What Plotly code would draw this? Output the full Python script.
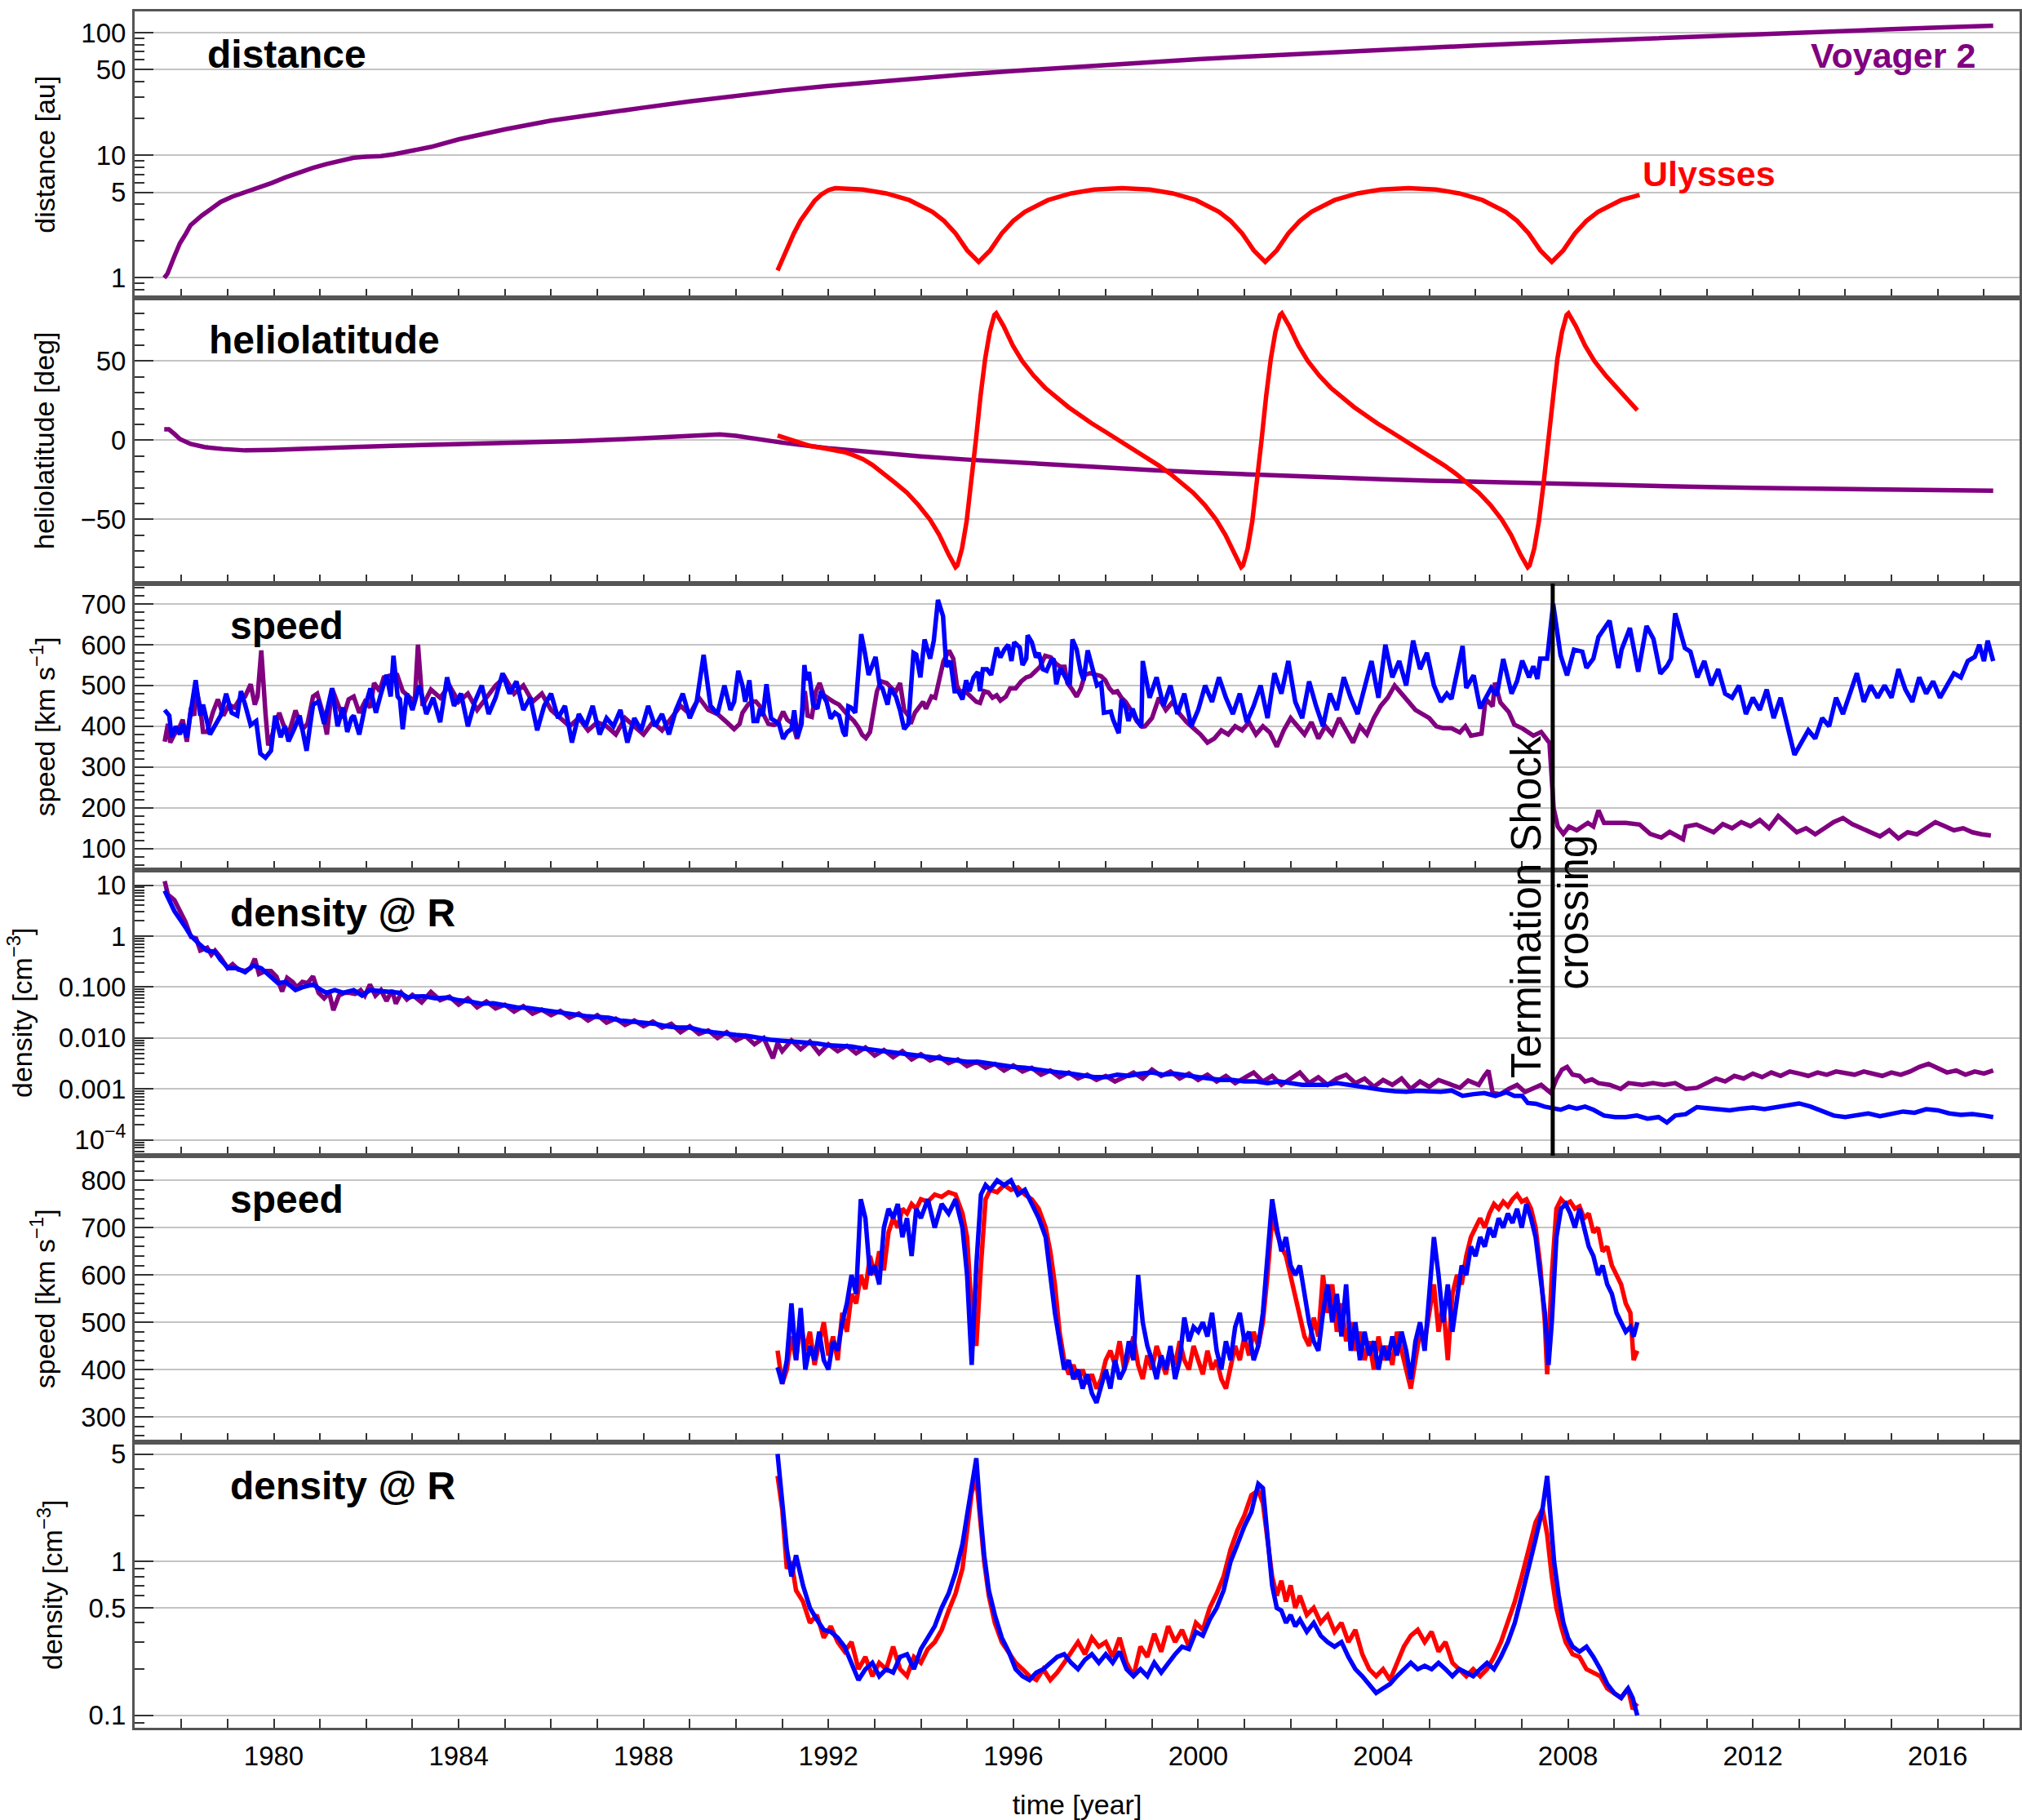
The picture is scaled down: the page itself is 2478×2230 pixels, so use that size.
import plotly.graph_objects as go

FONT = "Liberation Sans, Arial, Helvetica, sans-serif"
PURPLE = "#800080"
RED = "#ff0000"
BLUE = "#0000ff"

# ---------------------------------------------------------------- data
TS_CROSSING = 2007.67

V2_DIST = [(1977.63, 1.0), (1977.7, 1.08), (1977.85, 1.5), (1977.97, 1.92), (1978.1, 2.3), (1978.2, 2.69),
           (1978.44, 3.22), (1978.65, 3.7), (1978.85, 4.16), (1979.1, 4.6), (1979.38, 4.98), (1979.65, 5.45),
           (1979.96, 5.96), (1980.25, 6.6), (1980.56, 7.3), (1980.85, 7.9), (1981.15, 8.5), (1981.45, 9.1),
           (1981.73, 9.55), (1982.0, 9.75), (1982.32, 9.85), (1982.6, 10.2), (1982.9, 10.7), (1983.4, 11.7),
           (1984, 13.5), (1985, 16.3), (1986, 19.2), (1987, 21.8), (1988, 24.5), (1989, 27.5), (1990, 30.8),
           (1991, 33.8), (1992, 36.8), (1993, 39.8), (1994, 42.8), (1995, 45.8), (1996, 48.8), (1997, 51.8),
           (1998, 54.8), (1999, 57.8), (2000, 60.8), (2001, 63.8), (2002, 66.8), (2003, 69.8), (2004, 72.8),
           (2005, 75.8), (2006, 78.8), (2007, 81.8), (2008, 84.8), (2009, 87.9), (2010, 91.0), (2011, 94.2),
           (2012, 97.4), (2013, 100.6), (2014, 103.8), (2015, 107.0), (2016, 110.3), (2017.2, 114.0)]

ULY_DIST = [(1990.9, 1.15), (1991.0, 1.4), (1991.1, 1.75), (1991.25, 2.3), (1991.4, 2.95), (1991.55, 3.6),
            (1991.7, 4.25), (1991.85, 4.8), (1992.0, 5.2), (1992.15, 5.4), (1992.5, 5.33), (1992.75, 5.25),
            (1993.25, 4.89), (1993.75, 4.31), (1994.25, 3.46), (1994.5, 2.92), (1994.75, 2.31), (1995.0, 1.68),
            (1995.25, 1.35), (1995.5, 1.68), (1995.75, 2.31), (1996.0, 2.92), (1996.25, 3.46), (1996.75, 4.31),
            (1997.25, 4.89), (1997.75, 5.25), (1998.35, 5.39), (1998.95, 5.25), (1999.45, 4.89), (1999.95, 4.31),
            (2000.45, 3.46), (2000.7, 2.92), (2000.95, 2.31), (2001.2, 1.68), (2001.45, 1.35), (2001.7, 1.68),
            (2001.95, 2.31), (2002.2, 2.92), (2002.45, 3.46), (2002.95, 4.31), (2003.45, 4.89), (2003.95, 5.25),
            (2004.55, 5.39), (2005.15, 5.25), (2005.65, 4.89), (2006.15, 4.31), (2006.65, 3.46), (2006.9, 2.92),
            (2007.15, 2.31), (2007.4, 1.68), (2007.65, 1.35), (2007.9, 1.68), (2008.15, 2.31), (2008.4, 2.92),
            (2008.65, 3.46), (2009.15, 4.31), (2009.55, 4.75)]

V2_LAT = [(1977.63, 6.9), (1977.73, 6.9), (1977.85, 4.0), (1977.97, 0.8), (1978.2, -2.3), (1978.5, -4.3),
          (1978.9, -5.5), (1979.38, -6.4), (1979.97, -6.1), (1980.56, -5.7), (1981.15, -5.2), (1981.73, -4.3),
          (1982.56, -3.5), (1983.5, -2.9), (1984.5, -2.2), (1985.5, -1.4), (1986.5, -0.5), (1987.5, 0.6),
          (1988.5, 1.9), (1989.2, 3.0), (1989.65, 3.7), (1990.0, 2.8), (1990.5, 0.6), (1991, -1.5), (1992, -5),
          (1993, -7.8), (1994, -10.2), (1995, -12.2), (1996, -14), (1997, -15.8), (1998, -17.4), (1999, -18.9),
          (2000, -20.3), (2001, -21.5), (2002, -22.6), (2003, -23.6), (2004, -24.6), (2005, -25.5), (2006, -26.3),
          (2007, -27.1), (2008, -27.8), (2009, -28.4), (2010, -29), (2011, -29.6), (2012, -30.1), (2013, -30.5),
          (2014, -30.9), (2015, -31.3), (2016, -31.6), (2017.2, -31.9)]

ULY_LAT = [(1990.9, 3), (1991.05, 1.5), (1991.2, 0), (1991.4, -2), (1991.6, -3.5), (1991.8, -4.5), (1992.0, -5.5),
           (1992.15, -6.2), (1992.35, -7.5), (1992.55, -9.5), (1992.75, -12), (1992.95, -15.5), (1993.2, -21),
           (1993.45, -27), (1993.7, -33.1), (1993.95, -41), (1994.2, -50.2), (1994.4, -59.8), (1994.6, -72.1),
           (1994.75, -80.2), (1994.79, -79.1), (1994.89, -68.4), (1994.99, -51.2), (1995.09, -27.8), (1995.19, 0),
           (1995.29, 27.8), (1995.39, 51.2), (1995.49, 68.4), (1995.59, 79.1), (1995.63, 80.2), (1995.79, 72.1),
           (1995.99, 59.8), (1996.19, 50.2), (1996.44, 40.8), (1996.69, 33.1), (1997.19, 21.0), (1997.44, 15.8),
           (1997.69, 10.8), (1997.99, 5.4), (1998.29, 0), (1998.59, -5.4), (1998.89, -10.8), (1999.14, -15.8),
           (1999.39, -21.0), (1999.89, -33.1), (2000.14, -40.8), (2000.39, -50.2), (2000.59, -59.8),
           (2000.79, -72.1), (2000.93, -80.2), (2000.97, -79.1), (2001.07, -68.4), (2001.17, -51.2),
           (2001.27, -27.8), (2001.37, 0), (2001.47, 27.8), (2001.57, 51.2), (2001.67, 68.4), (2001.77, 79.1),
           (2001.81, 80.2), (2001.97, 72.1), (2002.17, 59.8), (2002.37, 50.2), (2002.62, 40.8), (2002.87, 33.1),
           (2003.37, 21.0), (2003.62, 15.8), (2003.87, 10.8), (2004.17, 5.4), (2004.47, 0), (2004.77, -5.4),
           (2005.07, -10.8), (2005.32, -15.8), (2005.57, -21.0), (2006.07, -33.1), (2006.32, -40.8),
           (2006.57, -50.2), (2006.77, -59.8), (2006.97, -72.1), (2007.13, -80.2), (2007.17, -79.1),
           (2007.27, -68.4), (2007.37, -51.2), (2007.47, -27.8), (2007.57, 0), (2007.67, 27.8), (2007.77, 51.2),
           (2007.87, 68.4), (2007.97, 79.1), (2008.01, 80.2), (2008.17, 72.1), (2008.37, 59.8), (2008.57, 50.2),
           (2008.82, 40.8), (2009.07, 33.1), (2009.3, 26), (2009.5, 19)]

# Voyager 2 solar wind speed: observed (purple) and propagated (blue)
V2_SPEED_OBS = [
    (1977.64, 362), (1977.71, 406), (1977.76, 360), (1977.85, 380), (1977.97, 400), (1978.03, 416), (1978.12, 362),
    (1978.21, 446), (1978.28, 426), (1978.32, 493), (1978.41, 446), (1978.47, 386), (1978.56, 386), (1978.68, 433),
    (1978.79, 466), (1978.91, 426), (1979.03, 453), (1979.15, 446), (1979.26, 466), (1979.38, 473), (1979.50, 503),
    (1979.59, 453), (1979.65, 473), (1979.73, 586), (1979.82, 433), (1979.88, 353), (1979.97, 380), (1980.03, 406),
    (1980.12, 433), (1980.20, 406), (1980.32, 380), (1980.47, 439), (1980.62, 393), (1980.73, 406), (1980.85, 473),
    (1980.94, 480), (1981.06, 433), (1981.15, 380), (1981.26, 493), (1981.41, 446), (1981.50, 420), (1981.62, 466),
    (1981.73, 473), (1981.85, 433), (1981.97, 460), (1982.09, 446), (1982.17, 506), (1982.29, 486), (1982.38, 520),
    (1982.56, 526), (1982.67, 526), (1982.79, 486), (1982.91, 473),
    (1983.05, 460), (1983.12, 600), (1983.22, 450), (1983.4, 490), (1983.6, 470), (1983.8, 500), (1984.0, 460),
    (1984.2, 480), (1984.4, 440), (1984.6, 470), (1984.8, 500), (1985.0, 520), (1985.2, 480), (1985.4, 500),
    (1985.6, 460), (1985.8, 480), (1986.0, 440), (1986.2, 420), (1986.4, 400), (1986.6, 420), (1986.8, 390),
    (1987.0, 410), (1987.2, 400), (1987.4, 380), (1987.6, 420), (1987.8, 400), (1988.0, 380), (1988.2, 410),
    (1988.4, 390), (1988.6, 420), (1988.8, 450), (1989.0, 430), (1989.2, 470), (1989.4, 440), (1989.6, 430),
    (1989.8, 410),
    (1989.96, 393), (1990.08, 406), (1990.14, 433), (1990.26, 453), (1990.35, 461), (1990.43, 461), (1990.52, 449),
    (1990.61, 426), (1990.70, 406), (1990.82, 403), (1990.90, 406), (1991.02, 436), (1991.11, 416), (1991.23, 406),
    (1991.32, 369), (1991.40, 406), (1991.49, 486), (1991.55, 426), (1991.64, 423), (1991.73, 486), (1991.81, 506),
    (1991.90, 476), (1992.02, 466), (1992.11, 460), (1992.23, 453), (1992.32, 439), (1992.43, 426), (1992.55, 413),
    (1992.64, 399), (1992.73, 379), (1992.81, 371), (1992.90, 386), (1992.96, 433), (1993.05, 486), (1993.14, 510),
    (1993.26, 506), (1993.37, 493), (1993.46, 486), (1993.55, 506), (1993.64, 439), (1993.73, 426), (1993.78, 406),
    (1993.87, 433), (1993.96, 449), (1994.05, 460), (1994.11, 443), (1994.23, 473), (1994.31, 470), (1994.40, 520),
    (1994.49, 560), (1994.61, 586), (1994.70, 566), (1994.78, 500), (1994.84, 486), (1994.96, 486), (1995.08, 473),
    (1995.20, 460), (1995.28, 457), (1995.37, 486), (1995.46, 483), (1995.55, 470), (1995.64, 476), (1995.72, 463),
    (1995.84, 473), (1995.93, 493), (1996.05, 493), (1996.17, 510), (1996.28, 520), (1996.37, 523), (1996.46, 533),
    (1996.58, 546), (1996.69, 573), (1996.81, 569), (1996.93, 553), (1997.02, 546), (1997.11, 546), (1997.17, 506),
    (1997.28, 489), (1997.37, 473), (1997.46, 493), (1997.55, 526), (1997.66, 530), (1997.78, 526), (1997.90, 523),
    (1997.99, 513), (1998.08, 493), (1998.16, 483), (1998.25, 486), (1998.34, 470), (1998.43, 460), (1998.55, 439),
    (1998.67, 413), (1998.78, 399),
    (1998.85, 400), (1999.0, 420), (1999.15, 470), (1999.3, 440), (1999.45, 460), (1999.6, 430), (1999.75, 410),
    (1999.9, 395), (2000.05, 380), (2000.2, 360), (2000.35, 370), (2000.5, 390), (2000.65, 380), (2000.8, 400),
    (2000.95, 390), (2001.1, 410), (2001.25, 380), (2001.4, 400), (2001.55, 385), (2001.7, 350), (2001.85, 390),
    (2002.0, 420), (2002.15, 400), (2002.3, 380), (2002.45, 410), (2002.6, 370), (2002.75, 400), (2002.9, 380),
    (2003.05, 420), (2003.2, 390), (2003.35, 360), (2003.5, 400), (2003.65, 380), (2003.8, 420), (2003.95, 450),
    (2004.1, 470), (2004.25, 500), (2004.4, 480), (2004.55, 460), (2004.7, 440), (2004.85, 430), (2005.0, 420),
    (2005.15, 400), (2005.3, 395),
    (2005.48, 395), (2005.66, 385), (2005.78, 400), (2005.9, 377), (2006.13, 382), (2006.22, 467), (2006.37, 449),
    (2006.42, 507), (2006.54, 458), (2006.72, 435), (2006.84, 404), (2007.01, 395), (2007.25, 377), (2007.42, 386),
    (2007.6, 359), (2007.69, 199), (2007.78, 154), (2007.9, 136), (2008.02, 154), (2008.19, 145), (2008.43, 163),
    (2008.55, 154), (2008.66, 194), (2008.78, 163), (2009.02, 163), (2009.25, 163), (2009.55, 159), (2009.78, 136),
    (2010.02, 127), (2010.2, 141), (2010.49, 123), (2010.55, 154), (2010.78, 159),
    (2010.95, 150), (2011.15, 140), (2011.35, 160), (2011.55, 150), (2011.75, 165), (2011.95, 155), (2012.15, 170),
    (2012.35, 150), (2012.55, 180), (2012.75, 160), (2012.95, 140), (2013.15, 150), (2013.35, 135), (2013.55, 150),
    (2013.75, 165), (2013.95, 175), (2014.15, 160), (2014.35, 150), (2014.55, 140), (2014.75, 130), (2014.95, 145),
    (2015.15, 125), (2015.35, 140), (2015.55, 135), (2015.75, 150), (2015.95, 165), (2016.15, 155), (2016.35, 145),
    (2016.55, 150), (2016.75, 140), (2016.95, 135), (2017.15, 132)]

V2_SPEED_MOD = [
    (1977.64, 440), (1977.74, 426), (1977.79, 373), (1977.88, 400), (1977.97, 380), (1978.03, 406), (1978.12, 373),
    (1978.21, 446), (1978.31, 513), (1978.41, 426), (1978.47, 453), (1978.62, 380), (1978.74, 406), (1978.85, 426),
    (1978.97, 480), (1979.09, 433), (1979.21, 426), (1979.29, 486), (1979.38, 453), (1979.50, 403), (1979.62, 413),
    (1979.71, 333), (1979.82, 323), (1979.94, 340), (1980.03, 426), (1980.15, 373), (1980.24, 400), (1980.32, 363),
    (1980.44, 393), (1980.56, 426), (1980.71, 340), (1980.85, 453), (1980.97, 460), (1981.09, 406), (1981.26, 493),
    (1981.38, 400), (1981.50, 446), (1981.59, 386), (1981.68, 420), (1981.73, 426), (1981.85, 380), (1981.97, 446),
    (1982.09, 493), (1982.21, 433), (1982.32, 480), (1982.44, 526), (1982.53, 473), (1982.59, 573), (1982.68, 473),
    (1982.73, 466), (1982.79, 393), (1982.88, 480),
    (1983.0, 440), (1983.15, 500), (1983.3, 430), (1983.45, 470), (1983.6, 410), (1983.75, 520), (1983.9, 450),
    (1984.05, 480), (1984.2, 400), (1984.35, 460), (1984.5, 500), (1984.65, 430), (1984.8, 470), (1984.95, 530),
    (1985.1, 480), (1985.25, 510), (1985.4, 440), (1985.55, 470), (1985.7, 390), (1985.85, 450), (1986.0, 480),
    (1986.15, 420), (1986.3, 450), (1986.45, 360), (1986.6, 430), (1986.75, 400), (1986.9, 450), (1987.05, 380),
    (1987.2, 420), (1987.35, 400), (1987.5, 440), (1987.65, 360), (1987.8, 420), (1987.95, 390), (1988.1, 450),
    (1988.25, 400), (1988.4, 430), (1988.55, 380), (1988.7, 440), (1988.85, 480), (1989.0, 420), (1989.15, 460),
    (1989.3, 575), (1989.45, 450), (1989.6, 430), (1989.75, 500), (1989.88, 440),
    (1989.96, 460), (1990.05, 536), (1990.14, 500), (1990.20, 460), (1990.29, 513), (1990.38, 413), (1990.46, 413),
    (1990.52, 443), (1990.58, 426), (1990.66, 503), (1990.76, 419), (1990.84, 413), (1990.93, 406), (1991.02, 369),
    (1991.11, 386), (1991.20, 393), (1991.26, 439), (1991.33, 373), (1991.42, 406), (1991.48, 550), (1991.52, 513),
    (1991.58, 533), (1991.67, 453), (1991.76, 443), (1991.84, 486), (1991.96, 460), (1992.05, 419), (1992.14, 433),
    (1992.23, 426), (1992.32, 386), (1992.37, 376), (1992.43, 449), (1992.49, 446), (1992.58, 433), (1992.71, 626),
    (1992.78, 586), (1992.87, 526), (1993.02, 570), (1993.11, 500), (1993.17, 493), (1993.28, 453), (1993.34, 493),
    (1993.46, 473), (1993.55, 439), (1993.64, 393), (1993.73, 406), (1993.84, 580), (1993.90, 576), (1993.99, 520),
    (1994.08, 613), (1994.20, 566), (1994.28, 610), (1994.37, 710), (1994.48, 670), (1994.55, 546), (1994.64, 560),
    (1994.73, 486), (1994.81, 486), (1994.90, 466), (1994.98, 513), (1995.05, 486), (1995.14, 520), (1995.23, 533),
    (1995.28, 486), (1995.34, 540), (1995.43, 540), (1995.52, 526), (1995.64, 593), (1995.72, 569), (1995.81, 589),
    (1995.89, 600), (1995.96, 560), (1996.02, 606), (1996.14, 593), (1996.20, 550), (1996.28, 566), (1996.31, 623),
    (1996.40, 606), (1996.49, 569), (1996.55, 580), (1996.64, 540), (1996.72, 536), (1996.81, 560), (1996.87, 566),
    (1996.93, 503), (1997.02, 543), (1997.11, 526), (1997.22, 500), (1997.28, 613), (1997.37, 589), (1997.46, 533),
    (1997.52, 513), (1997.61, 586), (1997.72, 540), (1997.81, 500), (1997.90, 506), (1997.96, 433), (1998.11, 436),
    (1998.16, 416), (1998.28, 383), (1998.34, 466), (1998.43, 446), (1998.49, 413), (1998.58, 443), (1998.67, 416),
    (1998.77, 399),
    (1998.8, 560), (1998.95, 470), (1999.1, 520), (1999.25, 450), (1999.4, 500), (1999.55, 430), (1999.7, 480),
    (1999.85, 400), (2000.0, 440), (2000.15, 500), (2000.3, 460), (2000.45, 520), (2000.6, 470), (2000.75, 430),
    (2000.9, 480), (2001.05, 410), (2001.2, 450), (2001.35, 500), (2001.5, 420), (2001.65, 530), (2001.8, 480),
    (2001.95, 560), (2002.1, 460), (2002.25, 420), (2002.4, 510), (2002.55, 450), (2002.7, 400), (2002.85, 480),
    (2003.0, 440), (2003.15, 520), (2003.3, 470), (2003.45, 430), (2003.6, 500), (2003.75, 560), (2003.9, 470),
    (2004.05, 600), (2004.2, 520), (2004.35, 560), (2004.5, 500), (2004.65, 610), (2004.8, 540), (2004.95, 580),
    (2005.1, 500), (2005.25, 460), (2005.38, 480),
    (2005.48, 467), (2005.72, 597), (2005.8, 494), (2005.96, 525), (2006.1, 444), (2006.34, 494), (2006.46, 476),
    (2006.6, 565), (2006.78, 480), (2006.9, 511), (2007.01, 561), (2007.16, 520), (2007.25, 547), (2007.34, 516),
    (2007.4, 566), (2007.55, 566), (2007.68, 700), (2007.84, 574), (2007.98, 525), (2008.13, 588), (2008.31, 583),
    (2008.4, 543), (2008.55, 566), (2008.66, 619), (2008.9, 659), (2009.02, 583), (2009.09, 543), (2009.16, 588),
    (2009.34, 641), (2009.52, 534), (2009.7, 646), (2009.85, 614), (2010.0, 529), (2010.14, 547), (2010.23, 566),
    (2010.32, 677), (2010.53, 592), (2010.65, 583), (2010.8, 520),
    (2010.95, 560), (2011.1, 500), (2011.25, 540), (2011.4, 480), (2011.55, 470), (2011.7, 500), (2011.85, 430),
    (2012.0, 470), (2012.15, 440), (2012.3, 490), (2012.45, 420), (2012.6, 470), (2012.75, 400), (2012.9, 330),
    (2013.05, 360), (2013.2, 390), (2013.35, 370), (2013.5, 420), (2013.65, 400), (2013.8, 470), (2013.95, 430),
    (2014.1, 480), (2014.25, 530), (2014.4, 460), (2014.55, 500), (2014.7, 470), (2014.85, 500), (2015.0, 470),
    (2015.15, 540), (2015.3, 490), (2015.45, 460), (2015.6, 520), (2015.75, 480), (2015.9, 510), (2016.05, 470),
    (2016.2, 500), (2016.35, 530), (2016.5, 520), (2016.65, 560), (2016.8, 570), (2016.9, 600), (2017.0, 560),
    (2017.08, 610), (2017.2, 560)]

# Voyager 2 density at R: observed (purple) and propagated (blue)
V2_DENS_OBS = [
    (1977.64, 12), (1977.71, 6.5), (1977.85, 5.1), (1978.09, 1.9), (1978.21, 0.96), (1978.32, 0.9), (1978.41, 0.52),
    (1978.56, 0.59), (1978.65, 0.43), (1978.73, 0.52), (1978.85, 0.38), (1979.0, 0.234), (1979.11, 0.28),
    (1979.23, 0.22), (1979.38, 0.207), (1979.5, 0.234), (1979.59, 0.36), (1979.68, 0.18), (1979.82, 0.207),
    (1979.94, 0.207), (1980.06, 0.16), (1980.18, 0.082), (1980.29, 0.152), (1980.41, 0.126), (1980.5, 0.099),
    (1980.62, 0.126), (1980.73, 0.119), (1980.85, 0.162), (1980.97, 0.077), (1981.09, 0.06), (1981.2, 0.077),
    (1981.29, 0.035), (1981.41, 0.068), (1981.53, 0.077), (1981.64, 0.077), (1981.76, 0.073), (1981.88, 0.087),
    (1981.97, 0.068), (1982.08, 0.112), (1982.2, 0.068), (1982.32, 0.087), (1982.44, 0.053), (1982.56, 0.087),
    (1982.64, 0.047), (1982.76, 0.077), (1982.88, 0.057),
    (1983.0, 0.07), (1983.2, 0.05), (1983.4, 0.08), (1983.6, 0.055), (1983.8, 0.065), (1984.0, 0.045),
    (1984.2, 0.06), (1984.4, 0.04), (1984.6, 0.052), (1984.8, 0.038), (1985.0, 0.045), (1985.2, 0.033),
    (1985.4, 0.042), (1985.6, 0.03), (1985.8, 0.036), (1986.0, 0.028), (1986.2, 0.034), (1986.4, 0.025),
    (1986.6, 0.03), (1986.8, 0.022), (1987.0, 0.028), (1987.2, 0.02), (1987.4, 0.024), (1987.6, 0.018),
    (1987.8, 0.022), (1988.0, 0.017), (1988.2, 0.021), (1988.4, 0.016), (1988.6, 0.019), (1988.8, 0.013),
    (1989.0, 0.017), (1989.2, 0.012), (1989.4, 0.014), (1989.6, 0.01), (1989.8, 0.013), (1990.0, 0.009),
    (1990.2, 0.011), (1990.4, 0.0075), (1990.6, 0.01), (1990.8, 0.004), (1990.9, 0.008), (1991.0, 0.0055),
    (1991.2, 0.009), (1991.4, 0.006), (1991.6, 0.0085), (1991.8, 0.005), (1992.0, 0.0075), (1992.2, 0.0055),
    (1992.4, 0.007), (1992.6, 0.005), (1992.8, 0.0065), (1993.0, 0.0045), (1993.2, 0.0058), (1993.4, 0.0042),
    (1993.6, 0.0055), (1993.8, 0.0038), (1994.0, 0.0048), (1994.2, 0.0036), (1994.4, 0.0043), (1994.6, 0.0032),
    (1994.8, 0.0038), (1995.0, 0.0028), (1995.2, 0.0034), (1995.4, 0.0026), (1995.6, 0.0031), (1995.8, 0.0023),
    (1996.0, 0.0029), (1996.2, 0.0022), (1996.4, 0.0026), (1996.6, 0.0019), (1996.8, 0.0023), (1997.0, 0.0017),
    (1997.2, 0.0021), (1997.4, 0.0016), (1997.6, 0.0019), (1997.8, 0.0015), (1998.0, 0.0018), (1998.2, 0.0014),
    (1998.4, 0.0017), (1998.6, 0.0021), (1998.8, 0.0016), (1999.0, 0.0024), (1999.2, 0.0018), (1999.4, 0.0022),
    (1999.6, 0.0016), (1999.8, 0.002), (2000.0, 0.0015), (2000.2, 0.0019), (2000.4, 0.0014), (2000.6, 0.0018),
    (2000.8, 0.0013), (2001.0, 0.0017), (2001.2, 0.0021), (2001.4, 0.0014), (2001.6, 0.0018), (2001.8, 0.0012),
    (2002.0, 0.0016), (2002.2, 0.0021), (2002.4, 0.0013), (2002.6, 0.0017), (2002.8, 0.0012), (2003.0, 0.0016),
    (2003.2, 0.0019), (2003.4, 0.0013), (2003.6, 0.0016), (2003.8, 0.0011), (2004.0, 0.0015), (2004.2, 0.0012),
    (2004.4, 0.0016), (2004.6, 0.001), (2004.8, 0.0014), (2005.0, 0.0011), (2005.2, 0.0015),
    (2005.48, 0.0012), (2005.66, 0.00105), (2005.84, 0.00146), (2006.07, 0.0012), (2006.19, 0.0018),
    (2006.28, 0.0023), (2006.37, 0.00083), (2006.54, 0.00079), (2006.72, 0.001), (2006.9, 0.0012),
    (2007.07, 0.00087), (2007.25, 0.001), (2007.42, 0.0012), (2007.63, 0.00083), (2007.75, 0.00154),
    (2007.87, 0.0024), (2007.98, 0.0027), (2008.1, 0.0019), (2008.25, 0.0018), (2008.37, 0.0014),
    (2008.52, 0.00154), (2008.66, 0.0013), (2008.9, 0.0012), (2009.14, 0.001), (2009.31, 0.0013),
    (2009.61, 0.0012), (2009.84, 0.0013), (2010.08, 0.0012), (2010.32, 0.0013), (2010.55, 0.001),
    (2010.79, 0.00105),
    (2011.0, 0.0013), (2011.2, 0.0016), (2011.4, 0.0014), (2011.6, 0.0018), (2011.8, 0.0016), (2012.0, 0.002),
    (2012.2, 0.0017), (2012.4, 0.0021), (2012.6, 0.0018), (2012.8, 0.0022), (2013.0, 0.002), (2013.2, 0.0018),
    (2013.4, 0.0021), (2013.6, 0.0019), (2013.8, 0.0022), (2014.0, 0.002), (2014.2, 0.0019), (2014.4, 0.0022),
    (2014.6, 0.002), (2014.8, 0.0018), (2015.0, 0.0021), (2015.2, 0.0019), (2015.4, 0.0022), (2015.6, 0.0027),
    (2015.8, 0.0031), (2016.0, 0.0025), (2016.2, 0.0021), (2016.4, 0.0023), (2016.6, 0.0019), (2016.8, 0.0022),
    (2017.0, 0.002), (2017.2, 0.0023)]

V2_DENS_MOD = [
    (1977.64, 7.8), (1977.85, 3.1), (1978.09, 1.48), (1978.2, 1.03), (1978.38, 0.71), (1978.55, 0.52),
    (1978.73, 0.49), (1978.85, 0.34), (1979.02, 0.234), (1979.2, 0.234), (1979.38, 0.195), (1979.55, 0.264),
    (1979.73, 0.234), (1979.91, 0.162), (1980.09, 0.119), (1980.26, 0.126), (1980.47, 0.087), (1980.62, 0.099),
    (1980.85, 0.112), (1981.03, 0.087), (1981.14, 0.077), (1981.32, 0.087), (1981.5, 0.077), (1981.73, 0.087),
    (1981.91, 0.068), (1982.08, 0.087), (1982.32, 0.082), (1982.56, 0.077), (1982.73, 0.077), (1982.91, 0.062),
    (1983.0, 0.065), (1983.25, 0.066), (1983.5, 0.06), (1983.75, 0.062), (1984.0, 0.055), (1984.25, 0.052),
    (1984.5, 0.047), (1984.75, 0.048), (1985.0, 0.043), (1985.25, 0.04), (1985.5, 0.039), (1985.75, 0.036),
    (1986.0, 0.033), (1986.25, 0.032), (1986.5, 0.029), (1986.75, 0.027), (1987.0, 0.026), (1987.25, 0.025),
    (1987.5, 0.022), (1987.75, 0.021), (1988.0, 0.02), (1988.25, 0.019), (1988.5, 0.017), (1988.75, 0.016),
    (1989.0, 0.016), (1989.25, 0.014), (1989.5, 0.013), (1989.75, 0.012), (1990.0, 0.0115), (1990.25, 0.011),
    (1990.5, 0.01), (1990.75, 0.0092), (1991.0, 0.0088), (1991.25, 0.0085), (1991.5, 0.0082), (1991.75, 0.0078),
    (1992.0, 0.0072), (1992.25, 0.007), (1992.5, 0.0068), (1992.75, 0.0062), (1993.0, 0.0058), (1993.25, 0.0056),
    (1993.5, 0.0052), (1993.75, 0.0048), (1994.0, 0.0045), (1994.25, 0.0042), (1994.5, 0.0039), (1994.75, 0.0036),
    (1995.0, 0.0034), (1995.25, 0.0034), (1995.5, 0.0031), (1995.75, 0.0029), (1996.0, 0.0027), (1996.25, 0.0026),
    (1996.5, 0.0024), (1996.75, 0.0023), (1997.0, 0.0021), (1997.25, 0.002), (1997.5, 0.0018), (1997.75, 0.0017),
    (1998.0, 0.0017), (1998.25, 0.0019), (1998.5, 0.0018), (1998.75, 0.002), (1999.0, 0.0021), (1999.25, 0.0019),
    (1999.5, 0.002), (1999.75, 0.0018), (2000.0, 0.0017), (2000.25, 0.0016), (2000.5, 0.0015), (2000.75, 0.0015),
    (2001.0, 0.0014), (2001.25, 0.0014), (2001.5, 0.0013), (2001.75, 0.0014), (2002.0, 0.0013), (2002.25, 0.0012),
    (2002.5, 0.0012), (2002.75, 0.0012), (2003.0, 0.0013), (2003.25, 0.0012), (2003.5, 0.0011), (2003.75, 0.001),
    (2004.0, 0.00095), (2004.25, 0.0009), (2004.5, 0.00088), (2004.75, 0.00092), (2005.0, 0.0009),
    (2005.25, 0.00088),
    (2005.48, 0.00093), (2005.72, 0.00073), (2005.96, 0.00079), (2006.19, 0.00083), (2006.43, 0.00073),
    (2006.66, 0.00086), (2006.84, 0.00073), (2007.01, 0.00073), (2007.13, 0.00053), (2007.31, 0.00051),
    (2007.49, 0.00045), (2007.66, 0.00041), (2007.84, 0.00039), (2008.02, 0.00045), (2008.19, 0.00041),
    (2008.37, 0.00045), (2008.55, 0.00039), (2008.78, 0.0003), (2009.02, 0.00028), (2009.25, 0.00028),
    (2009.49, 0.0003), (2009.72, 0.00026), (2009.96, 0.00028), (2010.14, 0.00022), (2010.32, 0.0003),
    (2010.55, 0.00032), (2010.79, 0.00044),
    (2011.0, 0.00042), (2011.25, 0.0004), (2011.5, 0.00038), (2011.75, 0.00041), (2012.0, 0.00043),
    (2012.25, 0.0004), (2012.5, 0.00044), (2012.75, 0.00048), (2013.0, 0.00052), (2013.25, 0.00045),
    (2013.5, 0.00036), (2013.75, 0.0003), (2014.0, 0.00028), (2014.25, 0.0003), (2014.5, 0.00033),
    (2014.75, 0.00029), (2015.0, 0.00032), (2015.25, 0.00036), (2015.5, 0.00034), (2015.75, 0.0004),
    (2016.0, 0.00038), (2016.25, 0.00033), (2016.5, 0.00031), (2016.75, 0.00032), (2017.0, 0.0003),
    (2017.2, 0.00028)]

# Ulysses solar wind speed: observed (red) and propagated (blue)
ULY_SPEED_OBS = [
    (1990.9, 440), (1991.0, 370), (1991.1, 400), (1991.2, 470), (1991.3, 420), (1991.4, 500), (1991.5, 440),
    (1991.6, 480), (1991.7, 410), (1991.8, 460), (1991.9, 500), (1992.0, 430), (1992.1, 470), (1992.2, 420),
    (1992.3, 520), (1992.4, 480), (1992.5, 560), (1992.6, 540), (1992.7, 600), (1992.8, 570), (1992.9, 640),
    (1993.0, 600), (1993.1, 650), (1993.2, 610), (1993.3, 690), (1993.4, 720), (1993.5, 700), (1993.6, 740),
    (1993.7, 730), (1993.8, 750), (1993.9, 740), (1994.0, 760), (1994.15, 755), (1994.3, 770), (1994.45, 765),
    (1994.6, 775), (1994.75, 770), (1994.9, 730), (1995.0, 680), (1995.1, 520), (1995.2, 450), (1995.3, 620),
    (1995.4, 760), (1995.5, 780), (1995.65, 775), (1995.8, 790), (1995.95, 780), (1996.1, 785), (1996.25, 770),
    (1996.4, 760), (1996.55, 740), (1996.7, 700), (1996.8, 650), (1996.9, 580), (1997.0, 480), (1997.1, 420),
    (1997.2, 390), (1997.3, 410), (1997.4, 380), (1997.5, 400), (1997.6, 370), (1997.7, 390), (1997.8, 360),
    (1997.9, 380), (1998.0, 420), (1998.1, 440), (1998.2, 410), (1998.3, 460), (1998.4, 400), (1998.5, 430),
    (1998.6, 470), (1998.7, 410), (1998.8, 380), (1998.9, 430), (1999.0, 400), (1999.1, 450), (1999.2, 420),
    (1999.3, 390), (1999.4, 440), (1999.5, 410), (1999.6, 460), (1999.7, 420), (1999.8, 400), (1999.9, 450),
    (2000.0, 420), (2000.1, 390), (2000.2, 440), (2000.3, 400), (2000.4, 420), (2000.5, 380), (2000.6, 360),
    (2000.7, 400), (2000.8, 450), (2000.9, 420), (2001.0, 470), (2001.1, 430), (2001.2, 480), (2001.3, 450),
    (2001.4, 500), (2001.5, 600), (2001.6, 720), (2001.7, 690), (2001.8, 660), (2001.9, 640), (2002.0, 600),
    (2002.1, 560), (2002.2, 520), (2002.3, 470), (2002.4, 450), (2002.5, 510), (2002.6, 470), (2002.7, 600),
    (2002.8, 520), (2002.9, 580), (2003.0, 480), (2003.1, 540), (2003.2, 460), (2003.3, 500), (2003.4, 440),
    (2003.5, 480), (2003.6, 420), (2003.7, 460), (2003.8, 400), (2003.9, 470), (2004.0, 420), (2004.1, 450),
    (2004.2, 410), (2004.3, 480), (2004.4, 440), (2004.5, 400), (2004.6, 360), (2004.7, 420), (2004.8, 480),
    (2004.9, 460), (2005.0, 520), (2005.1, 580), (2005.2, 480), (2005.3, 540), (2005.4, 420), (2005.5, 560),
    (2005.6, 600), (2005.7, 580), (2005.8, 640), (2005.9, 680), (2006.0, 700), (2006.1, 720), (2006.2, 700),
    (2006.3, 730), (2006.4, 750), (2006.5, 740), (2006.6, 755), (2006.7, 745), (2006.8, 760), (2006.9, 770),
    (2007.0, 755), (2007.1, 760), (2007.2, 740), (2007.3, 700), (2007.4, 620), (2007.5, 500), (2007.55, 390),
    (2007.65, 600), (2007.75, 740), (2007.85, 760), (2007.95, 750), (2008.05, 755), (2008.15, 740), (2008.25, 745),
    (2008.35, 720), (2008.45, 730), (2008.55, 690), (2008.65, 700), (2008.75, 650), (2008.85, 660), (2008.95, 620),
    (2009.05, 600), (2009.15, 580), (2009.25, 540), (2009.35, 520), (2009.42, 420), (2009.5, 440)]

ULY_SPEED_MOD = [
    (1990.9, 405), (1991.0, 370), (1991.1, 420), (1991.2, 540), (1991.3, 420), (1991.4, 530), (1991.5, 400),
    (1991.6, 450), (1991.7, 420), (1991.8, 480), (1991.9, 420), (1992.0, 400), (1992.1, 460), (1992.2, 440),
    (1992.3, 500), (1992.4, 540), (1992.5, 600), (1992.6, 560), (1992.7, 760), (1992.8, 720), (1992.9, 600),
    (1993.0, 620), (1993.1, 580), (1993.2, 700), (1993.3, 740), (1993.4, 720), (1993.5, 750), (1993.6, 680),
    (1993.7, 720), (1993.8, 640), (1993.9, 740), (1994.0, 720), (1994.15, 760), (1994.3, 700), (1994.45, 750),
    (1994.6, 730), (1994.75, 760), (1994.9, 700), (1995.0, 600), (1995.1, 410), (1995.2, 620), (1995.3, 770),
    (1995.4, 790), (1995.5, 780), (1995.65, 800), (1995.8, 790), (1995.95, 800), (1996.1, 770), (1996.25, 780),
    (1996.4, 750), (1996.55, 720), (1996.7, 680), (1996.8, 600), (1996.9, 520), (1997.0, 460), (1997.1, 400),
    (1997.2, 420), (1997.3, 380), (1997.4, 400), (1997.5, 360), (1997.6, 390), (1997.7, 350), (1997.8, 330),
    (1997.9, 370), (1998.0, 400), (1998.1, 360), (1998.2, 420), (1998.3, 380), (1998.4, 400), (1998.5, 460),
    (1998.6, 420), (1998.7, 600), (1998.8, 500), (1998.9, 450), (1999.0, 420), (1999.1, 380), (1999.2, 430),
    (1999.3, 400), (1999.4, 450), (1999.5, 380), (1999.6, 420), (1999.7, 510), (1999.8, 460), (1999.9, 490),
    (2000.0, 480), (2000.1, 500), (2000.2, 470), (2000.3, 520), (2000.4, 440), (2000.5, 400), (2000.6, 460),
    (2000.7, 420), (2000.8, 490), (2000.9, 520), (2001.0, 460), (2001.1, 480), (2001.2, 420), (2001.3, 450),
    (2001.4, 520), (2001.5, 640), (2001.6, 760), (2001.7, 700), (2001.8, 650), (2001.9, 680), (2002.0, 620),
    (2002.1, 600), (2002.2, 620), (2002.3, 560), (2002.4, 500), (2002.5, 460), (2002.6, 440), (2002.7, 520),
    (2002.8, 580), (2002.9, 500), (2003.0, 560), (2003.1, 470), (2003.2, 580), (2003.3, 440), (2003.4, 500),
    (2003.5, 420), (2003.6, 480), (2003.7, 430), (2003.8, 460), (2003.9, 400), (2004.0, 450), (2004.1, 420),
    (2004.2, 470), (2004.3, 430), (2004.4, 480), (2004.5, 440), (2004.6, 380), (2004.7, 460), (2004.8, 500),
    (2004.9, 440), (2005.0, 560), (2005.1, 680), (2005.2, 600), (2005.3, 500), (2005.4, 580), (2005.5, 480),
    (2005.6, 550), (2005.7, 620), (2005.8, 600), (2005.9, 660), (2006.0, 640), (2006.1, 680), (2006.2, 660),
    (2006.3, 700), (2006.4, 680), (2006.5, 720), (2006.6, 700), (2006.7, 730), (2006.8, 710), (2006.9, 740),
    (2007.0, 700), (2007.1, 750), (2007.2, 720), (2007.3, 680), (2007.4, 600), (2007.5, 520), (2007.58, 410),
    (2007.65, 500), (2007.75, 680), (2007.85, 740), (2007.95, 750), (2008.05, 730), (2008.15, 700), (2008.25, 740),
    (2008.35, 700), (2008.45, 660), (2008.55, 640), (2008.65, 600), (2008.75, 620), (2008.85, 580), (2008.95, 560),
    (2009.05, 520), (2009.15, 500), (2009.25, 480), (2009.35, 490), (2009.42, 470), (2009.5, 500)]

# Ulysses density at R: observed (red) and propagated (blue)
ULY_DENS_OBS = [
    (1990.9, 3.6), (1991.0, 2.2), (1991.1, 0.9), (1991.2, 1.0), (1991.3, 0.65), (1991.45, 0.55), (1991.6, 0.4),
    (1991.75, 0.45), (1991.9, 0.32), (1992.05, 0.38), (1992.2, 0.3), (1992.35, 0.26), (1992.5, 0.3), (1992.65, 0.2),
    (1992.8, 0.24), (1992.95, 0.18), (1993.1, 0.22), (1993.25, 0.2), (1993.4, 0.28), (1993.55, 0.2), (1993.7, 0.18),
    (1993.85, 0.24), (1994.0, 0.22), (1994.15, 0.27), (1994.3, 0.3), (1994.45, 0.36), (1994.6, 0.48),
    (1994.75, 0.62), (1994.9, 0.9), (1995.0, 1.6), (1995.1, 2.8), (1995.2, 3.5), (1995.28, 1.8), (1995.37, 1.0),
    (1995.47, 0.6), (1995.6, 0.4), (1995.75, 0.3), (1995.9, 0.26), (1996.05, 0.22), (1996.2, 0.2), (1996.35, 0.18),
    (1996.5, 0.17), (1996.65, 0.2), (1996.8, 0.17), (1996.95, 0.19), (1997.1, 0.22), (1997.25, 0.26), (1997.4, 0.3),
    (1997.55, 0.25), (1997.7, 0.32), (1997.85, 0.28), (1998.0, 0.3), (1998.15, 0.24), (1998.3, 0.32),
    (1998.45, 0.22), (1998.6, 0.18), (1998.75, 0.28), (1998.9, 0.24), (1999.05, 0.34), (1999.2, 0.26),
    (1999.35, 0.38), (1999.5, 0.3), (1999.65, 0.36), (1999.8, 0.28), (1999.95, 0.4), (2000.1, 0.36), (2000.25, 0.5),
    (2000.4, 0.62), (2000.55, 0.8), (2000.7, 1.2), (2000.85, 1.6), (2001.0, 2.0), (2001.15, 2.7), (2001.3, 2.9),
    (2001.4, 2.4), (2001.5, 1.3), (2001.6, 0.8), (2001.7, 0.6), (2001.8, 0.75), (2001.9, 0.55), (2002.0, 0.7),
    (2002.1, 0.5), (2002.2, 0.6), (2002.35, 0.45), (2002.5, 0.5), (2002.65, 0.4), (2002.8, 0.45), (2002.95, 0.35),
    (2003.1, 0.4), (2003.25, 0.3), (2003.4, 0.36), (2003.55, 0.25), (2003.7, 0.2), (2003.85, 0.18), (2004.0, 0.2),
    (2004.15, 0.17), (2004.3, 0.22), (2004.45, 0.28), (2004.6, 0.33), (2004.75, 0.36), (2004.9, 0.3),
    (2005.05, 0.35), (2005.2, 0.26), (2005.35, 0.3), (2005.5, 0.22), (2005.65, 0.2), (2005.8, 0.18),
    (2005.95, 0.2), (2006.1, 0.18), (2006.25, 0.2), (2006.4, 0.24), (2006.55, 0.3), (2006.7, 0.4), (2006.85, 0.55),
    (2007.0, 0.8), (2007.15, 1.2), (2007.3, 1.8), (2007.45, 2.2), (2007.55, 1.5), (2007.65, 0.8), (2007.75, 0.5),
    (2007.85, 0.38), (2007.95, 0.3), (2008.1, 0.25), (2008.25, 0.24), (2008.4, 0.2), (2008.55, 0.19),
    (2008.7, 0.18), (2008.85, 0.15), (2009.0, 0.14), (2009.15, 0.13), (2009.3, 0.15), (2009.4, 0.11),
    (2009.5, 0.12)]

ULY_DENS_MOD = [
    (1990.9, 5.0), (1991.0, 2.5), (1991.1, 1.2), (1991.2, 0.8), (1991.3, 1.1), (1991.45, 0.7), (1991.6, 0.5),
    (1991.75, 0.42), (1991.9, 0.36), (1992.05, 0.35), (1992.2, 0.32), (1992.35, 0.28), (1992.5, 0.22),
    (1992.65, 0.17), (1992.8, 0.2), (1992.95, 0.22), (1993.1, 0.18), (1993.25, 0.2), (1993.4, 0.19),
    (1993.55, 0.24), (1993.7, 0.25), (1993.85, 0.2), (1994.0, 0.27), (1994.15, 0.32), (1994.3, 0.38),
    (1994.45, 0.5), (1994.6, 0.62), (1994.75, 0.85), (1994.9, 1.3), (1995.0, 2.0), (1995.1, 3.2), (1995.2, 4.7),
    (1995.28, 2.2), (1995.37, 1.1), (1995.47, 0.65), (1995.6, 0.45), (1995.75, 0.32), (1995.9, 0.26),
    (1996.05, 0.2), (1996.2, 0.18), (1996.35, 0.17), (1996.5, 0.19), (1996.65, 0.2), (1996.8, 0.22),
    (1996.95, 0.24), (1997.1, 0.25), (1997.25, 0.22), (1997.4, 0.2), (1997.55, 0.23), (1997.7, 0.25),
    (1997.85, 0.22), (1998.0, 0.25), (1998.15, 0.22), (1998.3, 0.26), (1998.45, 0.2), (1998.6, 0.18),
    (1998.75, 0.2), (1998.9, 0.18), (1999.05, 0.22), (1999.2, 0.19), (1999.35, 0.22), (1999.5, 0.25),
    (1999.65, 0.28), (1999.8, 0.27), (1999.95, 0.35), (2000.1, 0.33), (2000.25, 0.42), (2000.4, 0.5),
    (2000.55, 0.65), (2000.7, 1.0), (2000.85, 1.3), (2001.0, 1.7), (2001.15, 2.1), (2001.3, 3.2), (2001.4, 3.0),
    (2001.5, 1.5), (2001.6, 0.7), (2001.7, 0.5), (2001.8, 0.48), (2001.9, 0.4), (2002.0, 0.45), (2002.1, 0.38),
    (2002.2, 0.42), (2002.35, 0.35), (2002.5, 0.4), (2002.65, 0.33), (2002.8, 0.3), (2002.95, 0.28), (2003.1, 0.3),
    (2003.25, 0.24), (2003.4, 0.2), (2003.55, 0.18), (2003.7, 0.16), (2003.85, 0.14), (2004.0, 0.15),
    (2004.15, 0.16), (2004.3, 0.18), (2004.45, 0.2), (2004.6, 0.22), (2004.75, 0.2), (2004.9, 0.21),
    (2005.05, 0.2), (2005.2, 0.22), (2005.35, 0.2), (2005.5, 0.18), (2005.65, 0.2), (2005.8, 0.19),
    (2005.95, 0.18), (2006.1, 0.2), (2006.25, 0.22), (2006.4, 0.2), (2006.55, 0.24), (2006.7, 0.3),
    (2006.85, 0.4), (2007.0, 0.6), (2007.15, 0.9), (2007.3, 1.4), (2007.45, 2.2), (2007.55, 3.6), (2007.62, 2.0),
    (2007.7, 1.0), (2007.8, 0.6), (2007.9, 0.4), (2008.0, 0.32), (2008.1, 0.28), (2008.25, 0.26), (2008.4, 0.28),
    (2008.55, 0.24), (2008.7, 0.2), (2008.85, 0.16), (2009.0, 0.14), (2009.15, 0.13), (2009.3, 0.15),
    (2009.4, 0.13), (2009.5, 0.1)]

# ---------------------------------------------------------------- layout geometry
W, H = 2478, 2230
ML, MR, MT, MB = 165, 0, 14, 113
PLOT_W = W - ML - MR
PLOT_H = H - MT - MB
X_RANGE = [1976.99, 2017.77]


def xpaper(px):
    return (px - ML) / PLOT_W


def ypaper(py):
    return 1 - (py - MT) / PLOT_H


def log_minor(e0, e1):
    return [m * 10 ** e for e in range(e0, e1 + 1) for m in range(2, 10)]


fig = go.Figure()


def add(series, color, k):
    ax = "" if k == 1 else str(k)
    fig.add_trace(go.Scatter(x=[p[0] for p in series], y=[p[1] for p in series], mode="lines",
                             line=dict(color=color, width=5.5), xaxis="x" + ax, yaxis="y" + ax,
                             showlegend=False, hoverinfo="skip"))


add(V2_DIST, PURPLE, 1)
add(ULY_DIST, RED, 1)
add(V2_LAT, PURPLE, 2)
add(ULY_LAT, RED, 2)
add(V2_SPEED_OBS, PURPLE, 3)
add(V2_SPEED_MOD, BLUE, 3)
add(V2_DENS_OBS, PURPLE, 4)
add(V2_DENS_MOD, BLUE, 4)
add(ULY_SPEED_OBS, RED, 5)
add(ULY_SPEED_MOD, BLUE, 5)
add(ULY_DENS_OBS, RED, 6)
add(ULY_DENS_MOD, BLUE, 6)

LINE_COL = "#555555"
TICK_COL = "#333333"
GRID_COL = "#c4c4c4"
TICKFONT = dict(family=FONT, size=33, color="black")
TITLEFONT = dict(family=FONT, size=34, color="black")

YSPECS = {
    1: dict(type="log", range=[-0.160, 2.174], tickvals=[1, 5, 10, 50, 100],
            ticktext=["1", "5", "10", "50", "100"], minorvals=log_minor(-1, 2), title="distance [au]"),
    2: dict(type="linear", range=[-90.5, 90.2], tickvals=[-50, 0, 50], ticktext=["\u221250", "0", "50"],
            minordtick=10, title="heliolatitude [deg]"),
    3: dict(type="linear", range=[48.5, 750], tickvals=[100, 200, 300, 400, 500, 600, 700],
            ticktext=["100", "200", "300", "400", "500", "600", "700"], minordtick=20,
            title="speed [km s<sup>\u22121</sup>]"),
    4: dict(type="log", range=[-4.31, 1.305], tickvals=[1e-4, 1e-3, 1e-2, 0.1, 1, 10],
            ticktext=["10<sup>\u22124</sup>", "0.001", "0.010", "0.100", "1", "10"], minorvals=log_minor(-5, 1),
            title="density [cm<sup>\u22123</sup>]"),
    5: dict(type="linear", range=[247.6, 852.2], tickvals=[300, 400, 500, 600, 700, 800],
            ticktext=["300", "400", "500", "600", "700", "800"], minordtick=20,
            title="speed [km s<sup>\u22121</sup>]"),
    6: dict(type="log", range=[-1.080, 0.779], tickvals=[0.1, 0.5, 1, 5], ticktext=["0.1", "0.5", "1", "5"],
            minorvals=log_minor(-2, 0), title="density [cm<sup>\u22123</sup>]"),
}

layout = dict(width=W, height=H, margin=dict(l=ML, r=MR, t=MT, b=MB, pad=0),
              paper_bgcolor="white", plot_bgcolor="white", showlegend=False,
              font=dict(family=FONT, color="black"))

for k in range(1, 7):
    ax = "" if k == 1 else str(k)
    dom = [1 - k / 6, 1 - (k - 1) / 6]
    xa = dict(domain=[0, 1], anchor="y" + ax, range=X_RANGE, showgrid=False, zeroline=False,
              showline=True, linecolor=LINE_COL, linewidth=3, mirror=True,
              ticks="inside", ticklen=11, tickwidth=2, tickcolor=TICK_COL,
              tickmode="linear", tick0=1980, dtick=4,
              minor=dict(ticks="inside", ticklen=11, tickwidth=2, tickcolor=TICK_COL, tick0=1980, dtick=1),
              showticklabels=(k == 6), tickfont=TICKFONT, ticklabelstandoff=3)
    if k == 6:
        xa["title"] = dict(text="time [year]", font=dict(family=FONT, size=34, color="black"), standoff=34)
    s = YSPECS[k]
    ya = dict(domain=dom, anchor="x" + ax, type=s["type"], range=s["range"],
              tickmode="array", tickvals=s["tickvals"], ticktext=s["ticktext"],
              showline=True, linecolor=LINE_COL, linewidth=3, mirror=True,
              ticks="inside", ticklen=23, tickwidth=2, tickcolor=TICK_COL,
              showgrid=True, gridcolor=GRID_COL, gridwidth=2, zeroline=False,
              tickfont=TICKFONT, ticklabelstandoff=1,
              title=dict(text=s["title"], font=TITLEFONT, standoff=22))
    if "minorvals" in s:
        ya["minor"] = dict(tickmode="array", tickvals=s["minorvals"], ticks="inside", ticklen=12, tickwidth=2,
                           tickcolor=TICK_COL, showgrid=False)
    else:
        ya["minor"] = dict(tickmode="linear", tick0=0, dtick=s["minordtick"], ticks="inside", ticklen=12,
                           tickwidth=2, tickcolor=TICK_COL, showgrid=False)
    layout["xaxis" + ax] = xa
    layout["yaxis" + ax] = ya

fig.update_layout(**layout)

# panel titles (left x in px, baseline y in px)
PANEL_TITLES = [("distance", 255, 83), ("heliolatitude", 257, 433), ("speed", 283, 783),
                ("density @ R", 283, 1135), ("speed", 283, 1486), ("density @ R", 283, 1837)]
for txt, lx, base in PANEL_TITLES:
    fig.add_annotation(text="<b>" + txt + "</b>", xref="paper", yref="paper", x=xpaper(lx - 3),
                       y=ypaper(base - 0.35 * 48), xanchor="left", yanchor="middle", showarrow=False,
                       font=dict(family=FONT, size=48, color="black"))

fig.add_annotation(text="<b>Voyager 2</b>", xref="paper", yref="paper", x=xpaper(2426),
                   y=ypaper(83 - 0.35 * 43), xanchor="right", yanchor="middle", showarrow=False,
                   font=dict(family=FONT, size=43, color=PURPLE))
fig.add_annotation(text="<b>Ulysses</b>", xref="paper", yref="paper", x=xpaper(2013),
                   y=ypaper(228 - 0.35 * 43), xanchor="left", yanchor="middle", showarrow=False,
                   font=dict(family=FONT, size=43, color=RED))

# termination shock marker
fig.add_shape(type="line", xref="x3", yref="paper", x0=TS_CROSSING, x1=TS_CROSSING, y0=2 / 6, y1=4 / 6,
              line=dict(color="black", width=5))
fig.add_annotation(text="Termination Shock", xref="paper", yref="paper", x=xpaper(1872.5), y=ypaper(1111),
                   xanchor="center", yanchor="middle", textangle=-90, showarrow=False,
                   font=dict(family=FONT, size=51, color="black"))
fig.add_annotation(text="crossing", xref="paper", yref="paper", x=xpaper(1930), y=ypaper(1118),
                   xanchor="center", yanchor="middle", textangle=-90, showarrow=False,
                   font=dict(family=FONT, size=51, color="black"))

fig.write_html("out.html")
